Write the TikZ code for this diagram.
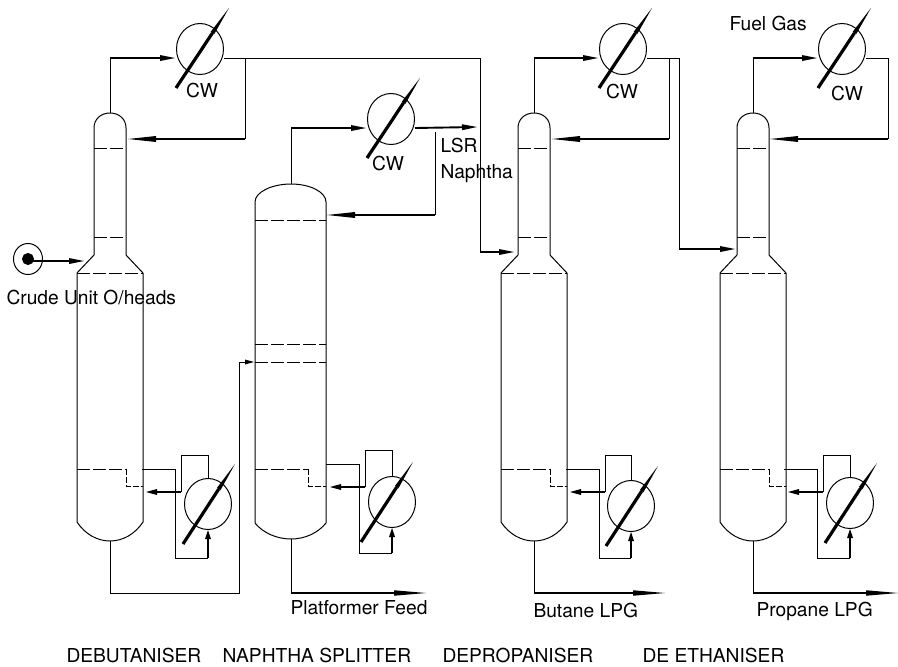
\documentclass[tikz,border=0pt]{standalone}
\usepackage{fontspec}
\setmainfont{TeX Gyre Heros}
\usetikzlibrary{arrows.meta,shapes.geometric}
\tikzset{
  tray/.style={dash pattern=on 13pt off 3pt},
  weir/.style={dash pattern=on 6pt off 2pt},
  flow/.style={-{Triangle[length=15pt,width=6pt,line width=0pt]},line width=1.9pt},
  longflow/.style={-{Triangle[length=28pt,width=6pt,line width=0pt]},line width=2.2pt},
  upflow/.style={-{Triangle[length=9pt,width=6pt,line width=0pt]},line width=1.8pt},
  prodflow/.style={-{Triangle[length=32pt,width=5.5pt,line width=0pt]},line width=1.6pt},
  exch/.style={draw,ellipse,minimum width=47pt,minimum height=51pt,inner sep=0pt},
  cwbar/.style={-{Triangle[length=30pt,width=4.2pt,line width=0pt]},line width=3.2pt},
  txt/.style={anchor=base west,inner sep=0pt,font=\fontsize{19.2}{23}\selectfont},
  cwtxt/.style={anchor=base,inner sep=0pt,font=\fontsize{19.2}{23}\selectfont}
}
\begin{document}
\begin{tikzpicture}[x=1pt,y=-1pt,line width=1pt,line join=miter]
      \useasboundingbox (0,0) rectangle (898,667);
      % tall columns
      \foreach \n/\x in {1/110,3/534,4/753} {
        \coordinate (top\n) at (\x,113);
        \coordinate (bot\n) at (\x,541);
        \draw (\x-33,522) -- (\x-33,273) -- (\x-16,255) -- (\x-16,128)
          .. controls (\x-16,119) and (\x-9,113) .. (top\n)
          .. controls (\x+9,113) and (\x+16,119) .. (\x+16,128)
          -- (\x+16,255) -- (\x+33,273) -- (\x+33,522)
          .. controls (\x+25,534) and (\x+13,541) .. (bot\n)
          .. controls (\x-13,541) and (\x-25,534) .. cycle;
        \draw[tray] (\x-16,148) -- (\x+16,148);
        \draw[tray] (\x-16,237) -- (\x+16,237);
        \draw[tray] (\x-33,273) -- (\x+33,273);
        \draw[tray] (\x-33,469) -- (\x+16,469);
        \draw[weir] (\x+16,469) -- (\x+16,486) -- (\x+33,486);
      }
      % splitter column
      \coordinate (top2) at (291,184);
      \coordinate (bot2) at (291,539);
      \draw (255,523) -- (255,202)
        .. controls (255,192) and (272,184) .. (top2)
        .. controls (310,184) and (326,192) .. (326,202)
        -- (326,523)
        .. controls (318,533) and (305,539) .. (bot2)
        .. controls (277,539) and (263,533) .. cycle;
      \draw[tray] (255,220) -- (326,220);
      \draw[tray] (255,344) -- (326,344);
      \draw[tray] (255,362) -- (326,362);
      \draw[tray] (255,469) -- (308,469);
      \draw[weir] (308,469) -- (308,486) -- (326,486);
      % condensers
      \foreach \n/\x/\y in {1/200/49,2/391/119,3/623/49,4/842/49} {
        \node[exch] (cond\n) at (\x,\y) {};
        \coordinate (in\n) at (\x-25,\y+9);
        \coordinate (out\n) at (\x+24,\y+9);
        \coordinate (bara) at (\x-24,\y+39);
        \coordinate (barb) at (\x+29,\y-41);
        \draw[cwbar] (bara) -- (barb);
        \draw (top\n) -- (top\n |- in\n);
        \draw[flow] (top\n |- in\n) -- (in\n);
      }
      % reboilers
      \foreach \n/\x/\y/\sx/\lx/\ly in {1/208/504/0/175/469,2/392/502/-6/359/464,3/631/506/0/599/469,4/850/503/0/817/469} {
        \node[exch] (reb\n) at (\x,\y) {};
        \coordinate (bara) at (\x-25+\sx,\y+40);
        \coordinate (barb) at (\x+27+\sx,\y-40);
        \draw[cwbar] (bara) -- (barb);
        \draw (\lx-33,\ly) -- (\lx,\ly) -- (\lx,\ly+89) -- (\x,\ly+89);
        \draw[upflow] (\x,\ly+89) -- (reb\n.south);
        \draw (reb\n.north) -- (\x,\ly-14) -- (\lx+6,\ly-14) -- (\lx+6,\ly+23);
        \draw[flow,-{Triangle[length=11pt,width=6pt,line width=0pt]}] (\lx+6,\ly+23) -- (\lx-29,\ly+23);
      }
      % crude feed
      \node[draw,ellipse,minimum width=29pt,minimum height=31pt,inner sep=0pt] (crude) at (28,259) {};
      \node[draw,circle,fill=black,minimum size=11pt,inner sep=0pt] (crudedot) at (28,259) {};
      \coordinate (feed1) at (84,261);
      \draw[flow] (crudedot.center |- feed1) -- (feed1);
      % overhead and reflux lines
      \coordinate (ret1) at (128,139);
      \coordinate (feed3) at (514,252);
      \coordinate (ret2) at (327,215);
      \coordinate (lsr) at (477,127);
      \coordinate (ret3) at (552,139);
      \coordinate (feed4) at (735,249);
      \coordinate (ret4) at (770,139);
      \draw (out1) -- (480,58) -- (480,252);
      \draw[flow] (480,252) -- (feed3);
      \draw (245,58) -- (245,139);
      \draw[longflow] (245,139) -- (ret1);
      \draw[flow] (out2) -- (lsr);
      \draw (435,132) -- (435,215);
      \draw[longflow] (435,215) -- (ret2);
      \draw (out3) -- (679,58) -- (679,249);
      \draw[flow,line width=2.8pt] (679,249) -- (feed4);
      \draw (669,58) -- (669,139);
      \draw[longflow] (669,139) -- (ret3);
      \draw (out4) -- (888,58) -- (888,139);
      \draw[longflow] (888,139) -- (ret4);
      % bottoms
      \coordinate (tray2) at (254,362);
      \draw (bot1) -- (110,593) -- (239,593) -- (239,362);
      \draw[-{Triangle[length=9pt,width=5pt,line width=0pt]}] (239,362) -- (tray2);
      \draw (bot2) -- (291,593);
      \draw[prodflow] (291,593) -- (426,593);
      \draw (bot3) -- (534,593);
      \draw[prodflow] (534,593) -- (665,593);
      \draw (bot4) -- (753,593);
      \draw[prodflow] (753,593) -- (898,593);
      % labels
      \node[cwtxt] (cw1) at (202,97) {CW};
      \node[cwtxt] (cw2) at (388,170) {CW};
      \node[cwtxt] (cw3) at (622,98) {CW};
      \node[cwtxt] (cw4) at (847,100) {CW};
      \node[txt] (crudelab) at (6,304) {Crude Unit O/heads};
      \node[txt] (lsrlab) at (440,152) {LSR};
      \node[txt] (naphlab) at (440,178) {Naphtha};
      \node[txt] (fuellab) at (729,30) {Fuel Gas};
      \node[txt] (platlab) at (290,614) {Platformer Feed};
      \node[txt] (butlab) at (533,617) {Butane LPG};
      \node[txt] (proplab) at (756,616) {Propane LPG};
      \node[txt] (debname) at (66,662) {DEBUTANISER};
      \node[txt] (naphname) at (222,662) {NAPHTHA SPLITTER};
      \node[txt] (depname) at (442,662) {DEPROPANISER};
      \node[txt] (ethname) at (642,662) {DE ETHANISER};
    \end{tikzpicture}
\end{document}
